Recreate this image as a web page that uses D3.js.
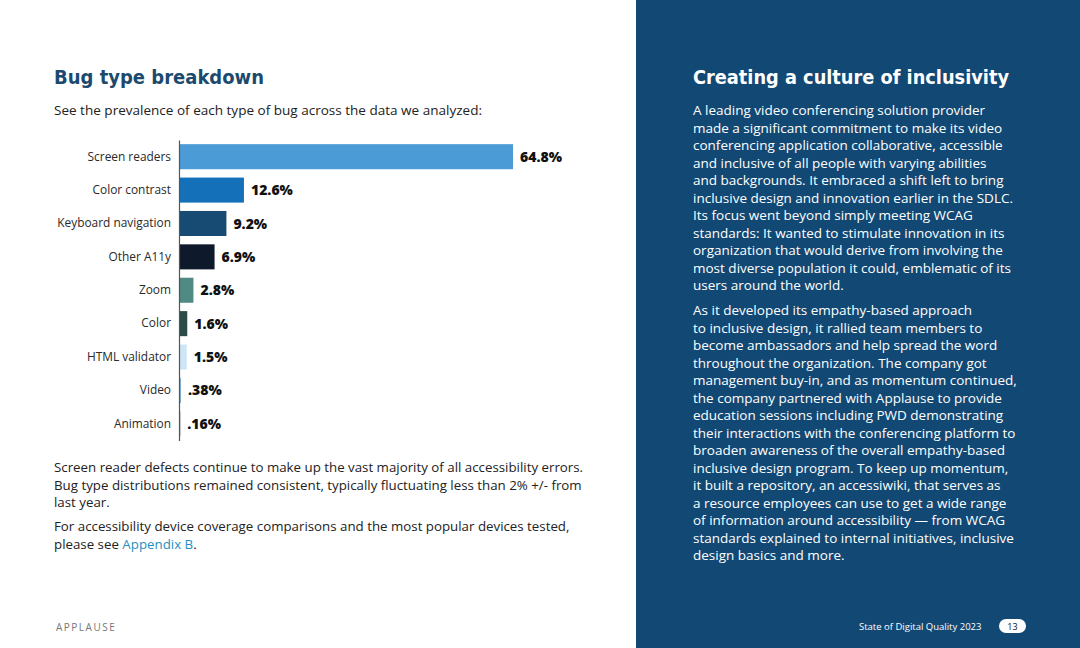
<!DOCTYPE html>
<html><head><meta charset="utf-8">
<script src="https://cdn.jsdelivr.net/npm/d3@7"></script>
<style>
html,body{margin:0;padding:0;background:#fff;}
svg{display:block;}
</style></head>
<body>
<script>
const categories = ["Screen readers","Color contrast","Keyboard navigation","Other A11y","Zoom","Color","HTML validator","Video","Animation"];
const values = [64.8,12.6,9.2,6.9,2.8,1.6,1.5,0.38,0.16];
const valueLabels = ["64.8%","12.6%","9.2%","6.9%","2.8%","1.6%","1.5%",".38%",".16%"];
const barColors = ["#4b9bd6","#1470b9","#174b74","#0e1a2c","#4f8a83","#2b4b47","#cde6f5","#7fb4dc","#2a2a2a"];

const title = "Bug type breakdown";
const subtitle = "See the prevalence of each type of bug across the data we analyzed:";
const note1 = ["Screen reader defects continue to make up the vast majority of all accessibility errors.",
  "Bug type distributions remained consistent, typically fluctuating less than 2% +/- from",
  "last year."];
const note2a = "For accessibility device coverage comparisons and the most popular devices tested,";
const note2b = "please see ";
const note2link = "Appendix B";
const sideTitle = "Creating a culture of inclusivity";
const sidePara1 = ["A leading video conferencing solution provider",
 "made a significant commitment to make its video",
 "conferencing application collaborative, accessible",
 "and inclusive of all people with varying abilities",
 "and backgrounds. It embraced a shift left to bring",
 "inclusive design and innovation earlier in the SDLC.",
 "Its focus went beyond simply meeting WCAG",
 "standards: It wanted to stimulate innovation in its",
 "organization that would derive from involving the",
 "most diverse population it could, emblematic of its",
 "users around the world."];
const sidePara2 = ["As it developed its empathy-based approach",
 "to inclusive design, it rallied team members to",
 "become ambassadors and help spread the word",
 "throughout the organization. The company got",
 "management buy-in, and as momentum continued,",
 "the company partnered with Applause to provide",
 "education sessions including PWD demonstrating",
 "their interactions with the conferencing platform to",
 "broaden awareness of the overall empathy-based",
 "inclusive design program. To keep up momentum,",
 "it built a repository, an accessiwiki, that serves as",
 "a resource employees can use to get a wide range",
 "of information around accessibility — from WCAG",
 "standards explained to internal initiatives, inclusive",
 "design basics and more."];
const footerText = "State of Digital Quality 2023";
const pageNum = "13";
const brand = "APPLAUSE";

const W = 1080, H = 648;
const svg = d3.select("body").append("svg").attr("width", W).attr("height", H);
const bodyFont = "'Open Sans', Lato, sans-serif";
const headFont = "'DejaVu Sans', Verdana, sans-serif";

// right panel
svg.append("rect").attr("x",636).attr("y",0).attr("width",W-636).attr("height",H).attr("fill","#124874");

// left heading
svg.append("text").attr("x",54).attr("y",84).text(title)
  .attr("font-family",headFont).attr("font-weight","bold").attr("font-size",19.5)
  .attr("fill","#1c4a6f").attr("textLength",210).attr("lengthAdjust","spacingAndGlyphs");
svg.append("text").attr("x",54).attr("y",115).text(subtitle)
  .attr("font-family",bodyFont).attr("font-size",13).attr("fill","#222")
  .attr("textLength",428).attr("lengthAdjust","spacingAndGlyphs");

// chart
const x = d3.scaleLinear().domain([0, 64.8]).range([179, 513]);
const y = d3.scaleBand().domain(categories).range([140, 440.5]).paddingInner(0.25).paddingOuter(0.125);

const g = svg.append("g");
g.selectAll("rect.bar").data(categories).join("rect").attr("class","bar")
  .attr("x", x(0)).attr("y", d => y(d))
  .attr("width", (d,i) => Math.max(1.2, x(values[i]) - x(0)))
  .attr("height", y.bandwidth())
  .attr("fill", (d,i) => barColors[i]);

const yAxis = d3.axisLeft(y).tickSize(0).tickPadding(8);
const ax = g.append("g").attr("transform",`translate(${x(0)},0)`).call(yAxis);
ax.select(".domain").attr("stroke","#555").attr("stroke-width",1.2);
ax.selectAll("text").attr("font-family",bodyFont).attr("font-size",11.9).attr("fill","#2a2a2a");

g.selectAll("text.val").data(categories).join("text").attr("class","val")
  .attr("x",(d,i)=> Math.max(x(values[i]), x(0)+1.2) + 7)
  .attr("y", d => y(d) + y.bandwidth()/2).attr("dy","0.36em")
  .text((d,i)=>valueLabels[i])
  .attr("font-family",bodyFont).attr("font-weight",800).attr("font-size",14).attr("fill","#111");

// notes
const lh = 17.5;
note1.forEach((t,i)=>{
  svg.append("text").attr("x",54).attr("y",472+i*lh).text(t)
    .attr("font-family",bodyFont).attr("font-size",13.3).attr("fill","#222");
});
const n2 = svg.append("text").attr("x",54).attr("y",531).text(note2a)
  .attr("font-family",bodyFont).attr("font-size",13.3).attr("fill","#222");
const n3 = svg.append("text").attr("x",54).attr("y",531+lh)
  .attr("font-family",bodyFont).attr("font-size",13.3).attr("fill","#222");
n3.append("tspan").text(note2b);
n3.append("tspan").text(note2link).attr("fill","#2a8fc0");
n3.append("tspan").text(".");

// brand
svg.append("text").attr("x",56).attr("y",631).text(brand)
  .attr("font-family",bodyFont).attr("font-size",10).attr("letter-spacing",1.5).attr("fill","#777");

// side text
svg.append("text").attr("x",693).attr("y",84).text(sideTitle)
  .attr("font-family",headFont).attr("font-weight","bold").attr("font-size",19.5)
  .attr("fill","#fff").attr("textLength",316).attr("lengthAdjust","spacingAndGlyphs");
sidePara1.forEach((t,i)=>{
  svg.append("text").attr("x",693).attr("y",115+i*lh).text(t)
    .attr("font-family",bodyFont).attr("font-size",13.5).attr("fill","#fff");
});
sidePara2.forEach((t,i)=>{
  svg.append("text").attr("x",693).attr("y",315+i*lh).text(t)
    .attr("font-family",bodyFont).attr("font-size",13.5).attr("fill","#fff");
});

// footer
svg.append("text").attr("x",859).attr("y",630).text(footerText)
  .attr("font-family",bodyFont).attr("font-size",9.5).attr("fill","#fff");
svg.append("rect").attr("x",999).attr("y",619).attr("width",27).attr("height",14).attr("rx",7).attr("fill","#fff");
svg.append("text").attr("x",1012.5).attr("y",630).attr("text-anchor","middle").text(pageNum)
  .attr("font-family",bodyFont).attr("font-size",9).attr("fill","#111");
</script>
</body></html>
